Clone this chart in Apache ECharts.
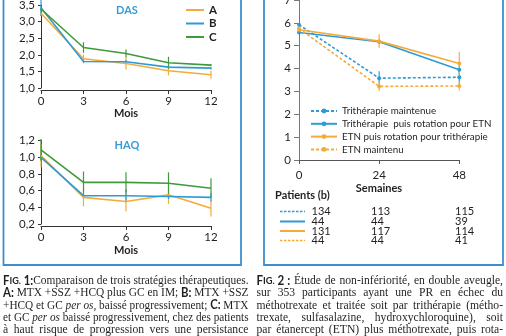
<!DOCTYPE html>
<html><head><meta charset="utf-8">
<script src="https://cdn.jsdelivr.net/npm/echarts@6/dist/echarts.min.js"></script>
<style>html,body{margin:0;padding:0;background:#fff}#c{width:506px;height:336px}</style>
</head><body><div id="c"></div>
<script>
// ---- data ----
const months = [0, 3, 6, 9, 12];
const dasA = [3.25, 1.88, 1.74, 1.52, 1.40];
const dasB = [3.42, 1.80, 1.79, 1.63, 1.60];
const dasC = [3.38, 2.22, 2.04, 1.76, 1.69];
const dasErrA = [0.08, 0.13, 0.18, 0.14, 0.12];
const dasErrB = [0.25, 0.05, 0.05, 0.04, 0.04];
const dasErrC = [0.05, 0.16, 0.12, 0.18, 0.03];
const haqA = [1.02, 0.52, 0.47, 0.55, 0.39];
const haqB = [1.00, 0.54, 0.54, 0.53, 0.52];
const haqC = [1.09, 0.70, 0.70, 0.69, 0.63];
const haqErrA = [0.14, 0.11, 0.12, 0.11, 0.10];
const haqErrB = [0.03, 0.03, 0.08, 0.03, 0.05];
const haqErrC = [0.13, 0.13, 0.12, 0.13, 0.12];
const weeks = [0, 24, 48];
const triMaint = [5.92, 3.58, 3.62];
const triRot = [5.58, 5.17, 3.95];
const etnRot = [5.70, 5.20, 4.22];
const etnMaint = [5.75, 3.22, 3.24];
const errTriMaint = [0.05, 0.30, 0.28];
const errTriRot = [0.05, 0.05, 0.20];
const errEtnRot = [0.05, 0.30, 0.50];
const errEtnMaint = [0.05, 0.20, 0.20];
const rightNames = ['Trithérapie maintenue', 'Trithérapie  puis rotation pour ETN', 'ETN puis rotation pour trithérapie', 'ETN maintenu'];
const patients = [[134, 113, 115], [44, 44, 39], [131, 117, 114], [44, 44, 41]];
const captionLeft = [
  '{b|F}{bs|IG.}{b|\u00a01:}Comparaison de trois stratégies thérapeutiques.',
  '{b|A:} MTX +SSZ +HCQ plus GC en IM; {b|B:} MTX +SSZ',
  '+HCQ et GC {i|per os}, baissé progressivement; {b|C:} MTX',
  'et GC {i|per os} baissé progressivement, chez des patients',
  'à haut risque de progression vers une persistance'
];
const captionRight = [
  '{b|F}{bs|IG.}{b|\u00a02\u00a0:} Étude de non-infériorité, en double aveugle,',
  'sur 353 participants ayant une PR en échec du',
  'méthotrexate et traitée soit par trithérapie (métho-',
  'trexate, sulfasalazine, hydroxychloroquine), soit',
  'par étanercept (ETN) plus méthotrexate, puis rota-'
];

// ---- styles ----
const ORANGE = '#f5ab3a', BLUE = '#2f9bd6', GREEN = '#3f9a3a', TXT = '#231f20', FRAME = '#3b8fd0';
const SANS = 'Lato';

const fontDefs = {
  r: {fontFamily: 'Liberation Serif', fontSize: 12.5, fontWeight: 'normal', fontStyle: 'normal'},
  i: {fontFamily: 'Liberation Serif', fontSize: 12.5, fontWeight: 'normal', fontStyle: 'italic'},
  b: {fontFamily: SANS, fontSize: 12.5, fontWeight: 'bold', fontStyle: 'normal'},
  bs: {fontFamily: SANS, fontSize: 10, fontWeight: 'bold', fontStyle: 'normal'}
};
const richStyles = {};
Object.keys(fontDefs).forEach(k => { richStyles[k] = Object.assign({fill: TXT}, fontDefs[k]); });
const mctx = document.createElement('canvas').getContext('2d');
function measure(part) {
  const f = fontDefs[part.s];
  mctx.font = f.fontStyle + ' ' + f.fontWeight + ' ' + f.fontSize + 'px "' + f.fontFamily + '"';
  return mctx.measureText(part.t).width;
}
function parseLine(s) {
  const runs = []; const re = /\{(\w+)\|([^}]*)\}|([^{]+)/g; let m;
  while ((m = re.exec(s))) { if (m[1]) runs.push({s: m[1], t: m[2]}); else runs.push({s: 'r', t: m[3]}); }
  const words = []; let cur = [];
  runs.forEach(r => {
    r.t.split(' ').forEach((p, i) => {
      if (i > 0) { if (cur.length) words.push(cur); cur = []; }
      if (p) cur.push({s: r.s, t: p});
    });
  });
  if (cur.length) words.push(cur);
  return words;
}
const CAP_SCALE = 0.93, MIN_GAP = 2.8;
function captionGraphics(lines, x0, x1, y0, dy) {
  const out = [];
  lines.forEach((line, li) => {
    const words = parseLine(line);
    const widths = words.map(w => w.reduce((a, p) => a + measure(p), 0));
    const total = widths.reduce((a, b) => a + b, 0);
    const n = words.length;
    let sc = CAP_SCALE;
    if (total * sc + MIN_GAP * (n - 1) > x1 - x0) sc = (x1 - x0 - MIN_GAP * (n - 1)) / total;
    const gap = n > 1 ? (x1 - x0 - total * sc) / (n - 1) : 0;
    let x = x0;
    words.forEach((w, wi) => {
      out.push({type: 'text', x: x, y: y0 + li * dy, scaleX: sc, silent: true,
        style: {text: w.map(p => '{' + p.s + '|' + p.t + '}').join(''), rich: richStyles,
          verticalAlign: 'middle', align: 'left', fill: TXT}});
      x += widths[wi] * sc + gap;
    });
  });
  return out;
}

function errSeries(name, xs, ys, es, color, axisIdx) {
  return {
    type: 'custom', name: name + '_err', xAxisIndex: axisIdx, yAxisIndex: axisIdx, silent: true, z: 3,
    itemStyle: {color: color},
    data: xs.map((x, i) => [x, ys[i], es[i]]),
    renderItem: function (params, api) {
      const x = api.value(0), y = api.value(1), e = api.value(2);
      const p1 = api.coord([x, y - e]), p2 = api.coord([x, y + e]);
      return {type: 'line', shape: {x1: p1[0], y1: p1[1], x2: p2[0], y2: p2[1]},
        style: {stroke: color, lineWidth: 1.2}};
    }
  };
}
function lineSeries(name, xs, ys, color, axisIdx, dashed, sym) {
  return {
    type: 'line', name: name, xAxisIndex: axisIdx, yAxisIndex: axisIdx, z: 4,
    data: xs.map((x, i) => [x, ys[i]]), color: color,
    symbol: sym ? 'circle' : 'none', symbolSize: 4, showSymbol: !!sym,
    lineStyle: {color: color, width: 1.6, type: dashed ? [3, 2] : 'solid'},
    itemStyle: {color: color}, animation: false
  };
}
const comma = v => (Math.round(v * 10) / 10).toFixed(1).replace('.', ',');
const leftAxisLine = {show: true, lineStyle: {color: '#333', width: 1}};
function leftX(idx) {
  return {type: 'value', gridIndex: idx, min: 0, max: 12, interval: 3, offset: 2,
    axisLine: leftAxisLine, axisTick: {show: true, length: 4, lineStyle: {color: '#333'}},
    splitLine: {show: false},
    axisLabel: {margin: 5, fontSize: 11.5, fontFamily: SANS, color: TXT}};
}
function leftY(idx, min, max, interval) {
  return {type: 'value', gridIndex: idx, min: min, max: max, interval: interval, offset: 2,
    axisLine: leftAxisLine, axisTick: {show: true, length: 3, lineStyle: {color: '#333'}},
    splitLine: {show: false},
    axisLabel: {margin: 4, fontSize: 11.5, fontFamily: SANS, color: TXT, formatter: comma}};
}

const graphics = [
  {type: 'rect', shape: {x: 3.5, y: -10, width: 237.5, height: 275}, style: {fill: 'none', stroke: FRAME, lineWidth: 1.8}, silent: true},
  {type: 'rect', shape: {x: 264, y: -10, width: 239, height: 275}, style: {fill: 'none', stroke: FRAME, lineWidth: 1.8}, silent: true},
  {type: 'text', x: 127, y: 10, style: {text: 'DAS', fill: '#3a9bd5', font: 'bold 11px ' + SANS, align: 'center', verticalAlign: 'middle'}},
  {type: 'text', x: 127, y: 145, style: {text: 'HAQ', fill: '#3a9bd5', font: 'bold 11px ' + SANS, align: 'center', verticalAlign: 'middle'}},
  {type: 'text', x: 126, y: 113, style: {text: 'Mois', fill: TXT, font: 'bold 11px ' + SANS, align: 'center', verticalAlign: 'middle'}},
  {type: 'text', x: 126, y: 250, style: {text: 'Mois', fill: TXT, font: 'bold 11px ' + SANS, align: 'center', verticalAlign: 'middle'}},
  {type: 'text', x: 379, y: 188, style: {text: 'Semaines', fill: TXT, font: 'bold 11px ' + SANS, align: 'center', verticalAlign: 'middle'}},
  {type: 'text', x: 275, y: 195, style: {text: 'Patients (b)', fill: TXT, font: 'bold 11px ' + SANS, align: 'left', verticalAlign: 'middle'}}
];
const tableColors = [BLUE, BLUE, ORANGE, ORANGE];
const tableDashed = [true, false, false, true];
const rowY = [211.5, 221.5, 231, 240.5];
const colX = [311.5, 371, 455];
patients.forEach((row, ri) => {
  graphics.push({type: 'line', shape: {x1: 280, y1: rowY[ri], x2: 305, y2: rowY[ri]},
    style: {stroke: tableColors[ri], lineWidth: tableDashed[ri] ? 1.3 : 2, lineDash: tableDashed[ri] ? [2.5, 1.5] : null}});
  row.forEach((v, ci) => {
    graphics.push({type: 'text', x: colX[ci], y: rowY[ri], style: {text: String(v), fill: TXT, font: '11px ' + SANS, align: 'left', verticalAlign: 'middle'}});
  });
});
captionGraphics(captionLeft, 3, 248.5, 280.5, 12.4).forEach(g => graphics.push(g));
captionGraphics(captionRight, 256.5, 503, 280.5, 12.4).forEach(g => graphics.push(g));

const option = {
  animation: false,
  textStyle: {fontFamily: SANS},
  grid: [
    {left: 41, top: 5, width: 170, height: 83, outerBoundsMode: 'none', containLabel: false},
    {left: 41, top: 140.7, width: 170, height: 83.3, outerBoundsMode: 'none', containLabel: false},
    {left: 299, top: 0, width: 160.3, height: 160, outerBoundsMode: 'none', containLabel: false}
  ],
  xAxis: [leftX(0), leftX(1), {
    type: 'value', gridIndex: 2, min: 0, max: 48, interval: 24,
    axisLine: {show: true, lineStyle: {color: '#555'}}, axisTick: {show: true, length: 4, lineStyle: {color: '#555'}},
    splitLine: {show: false}, axisLabel: {margin: 9, fontSize: 11.5, fontFamily: SANS, color: TXT}
  }],
  yAxis: [leftY(0, 1, 3.5, 0.5), leftY(1, 0.2, 1.2, 0.2), {
    type: 'value', gridIndex: 2, min: 0, max: 7, interval: 1,
    axisLine: {show: true, lineStyle: {color: '#777'}}, axisTick: {show: true, length: 5, lineStyle: {color: '#777'}},
    splitLine: {show: false}, axisLabel: {margin: 8, fontSize: 11.5, fontFamily: SANS, color: TXT}
  }],
  legend: [
    {data: ['A', 'B', 'C'], orient: 'vertical', left: 181, top: -1, itemWidth: 18, itemHeight: 2, itemGap: 1.5,
      icon: 'rect', textStyle: {fontSize: 11.5, fontWeight: 'bold', fontFamily: SANS, color: TXT, lineHeight: 12}},
    {data: rightNames, orient: 'vertical', left: 305, top: 100, itemWidth: 26, itemHeight: 6, itemGap: 0.8,
      textStyle: {fontSize: 9.8, fontFamily: SANS, color: TXT, lineHeight: 12}}
  ],
  series: [
    errSeries('A', months, dasA, dasErrA, ORANGE, 0),
    errSeries('B', months, dasB, dasErrB, BLUE, 0),
    errSeries('C', months, dasC, dasErrC, GREEN, 0),
    lineSeries('A', months, dasA, ORANGE, 0, false, false),
    lineSeries('B', months, dasB, BLUE, 0, false, false),
    lineSeries('C', months, dasC, GREEN, 0, false, false),
    errSeries('A', months, haqA, haqErrA, ORANGE, 1),
    errSeries('B', months, haqB, haqErrB, BLUE, 1),
    errSeries('C', months, haqC, haqErrC, GREEN, 1),
    lineSeries('A', months, haqA, ORANGE, 1, false, false),
    lineSeries('B', months, haqB, BLUE, 1, false, false),
    lineSeries('C', months, haqC, GREEN, 1, false, false),
    errSeries(rightNames[0], weeks, triMaint, errTriMaint, BLUE, 2),
    errSeries(rightNames[1], weeks, triRot, errTriRot, BLUE, 2),
    errSeries(rightNames[2], weeks, etnRot, errEtnRot, ORANGE, 2),
    errSeries(rightNames[3], weeks, etnMaint, errEtnMaint, ORANGE, 2),
    lineSeries(rightNames[0], weeks, triMaint, BLUE, 2, true, true),
    lineSeries(rightNames[1], weeks, triRot, BLUE, 2, false, true),
    lineSeries(rightNames[2], weeks, etnRot, ORANGE, 2, false, true),
    lineSeries(rightNames[3], weeks, etnMaint, ORANGE, 2, true, true)
  ],
  graphic: graphics
};
const chart = echarts.init(document.getElementById('c'), null, {renderer: 'canvas'});
chart.setOption(option);
</script></body></html>
